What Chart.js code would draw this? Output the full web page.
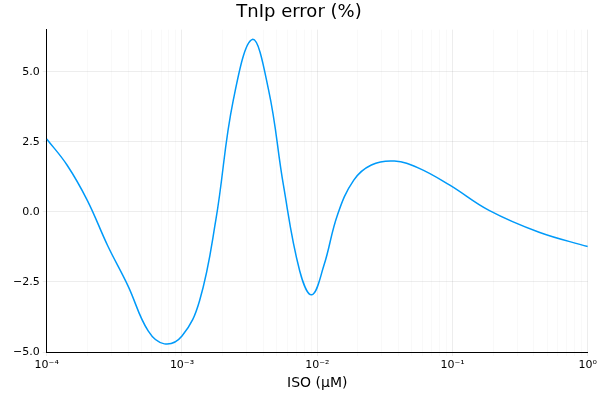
<!DOCTYPE html><html><head><script src="https://cdn.jsdelivr.net/npm/chart.js@4"></script>
<style>body{margin:0;background:#fff}#w{width:600px;height:400px}</style></head><body><div id="w"><canvas id="c"></canvas></div>
<script>
const logX=[-4,-3.85,-3.7,-3.55,-3.4,-3.25,-3.13,-3.0,-2.87,-2.75,-2.62,-2.48,-2.36,-2.25,-2.13,-2.04,-1.95,-1.85,-1.73,-1.6,-1.43,-1.25,-1.02,-0.73,-0.36,0];
const errY=[2.6,1.67,0.41,-1.2,-2.63,-4.25,-4.71,-4.43,-3.17,-0.3,4.0,6.15,4.35,0.95,-2.1,-2.96,-1.9,-0.1,1.13,1.67,1.81,1.56,0.95,0.05,-0.73,-1.24];
const yTicks=[-5,-2.5,0,2.5,5];
const sup={'-':'⁻','0':'⁰','1':'¹','2':'²','3':'³','4':'⁴'};
const data=logX.map((l,i)=>({x:Math.pow(10,l),y:errY[i]}));
new Chart(document.getElementById('c'),{type:'line',data:{datasets:[{data,borderColor:'#009AF9',borderWidth:1.5,pointRadius:0,tension:0.4,fill:false}]},
options:{responsive:true,maintainAspectRatio:false,animation:false,layout:{padding:{right:12,left:10,bottom:8}},
plugins:{legend:{display:false},title:{display:true,text:'TnIp error (%)',color:'#000',font:{family:'DejaVu Sans',size:18,weight:'normal'},padding:{top:2,bottom:6}}},
scales:{x:{type:'logarithmic',min:1e-4,max:1,title:{display:true,text:'ISO (μM)',color:'#000',font:{family:'DejaVu Sans',size:14},padding:0},
afterBuildTicks:s=>{const t=[];for(let e=-4;e<=0;e++){for(let m=1;m<=9;m++){if(e==0&&m>1)break;t.push({value:m*Math.pow(10,e)});}}s.ticks=t;},
ticks:{autoSkip:false,maxRotation:0,color:'#000',font:{family:'DejaVu Sans',size:11},callback:v=>{const l=Math.log10(v);if(Math.abs(l-Math.round(l))>1e-9)return '';return '10'+String(Math.round(l)).split('').map(c=>sup[c]).join('');}},
grid:{color:ctx=>{const v=ctx.tick&&ctx.tick.value;if(!v)return 'rgba(0,0,0,0.025)';const l=Math.log10(v);return Math.abs(l-Math.round(l))<1e-9?'rgba(0,0,0,0.07)':'rgba(0,0,0,0.025)';},tickLength:4},border:{color:'#000'}},
y:{min:-5,max:6.5,afterBuildTicks:s=>{s.ticks=yTicks.map(v=>({value:v}));},ticks:{color:'#000',font:{family:'DejaVu Sans',size:11},callback:v=>v.toFixed(1).replace('-','−')},grid:{color:'rgba(0,0,0,0.07)',tickLength:4},border:{color:'#000'}}}}});
</script></body></html>
